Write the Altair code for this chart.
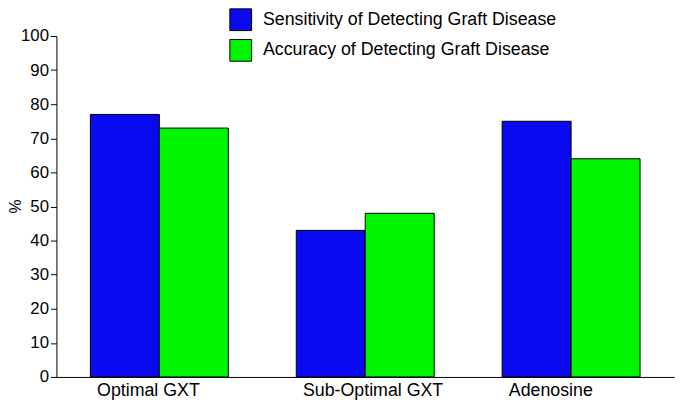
import altair as alt
import pandas as pd

categories = ["Optimal GXT", "Sub-Optimal GXT", "Adenosine"]
series = ["Sensitivity of Detecting Graft Disease", "Accuracy of Detecting Graft Disease"]
sensitivity = [77, 43, 75]
accuracy = [73, 48, 64]
colors = ["#0a0af0", "#00f500"]

rows = []
for c, s, a in zip(categories, sensitivity, accuracy):
    rows.append({"category": c, "series": series[0], "value": s})
    rows.append({"category": c, "series": series[1], "value": a})
df = pd.DataFrame(rows)

FONT = "Liberation Sans"

chart = alt.Chart(df).mark_bar(stroke="black", strokeWidth=1).encode(
    x=alt.X("category:N", sort=categories, title=None,
            scale=alt.Scale(paddingInner=0.33, paddingOuter=0.165),
            axis=alt.Axis(labelAngle=0, ticks=False, domainColor="black", domainWidth=1,
                          labelFontSize=18, labelColor="black", labelFont=FONT,
                          labelPadding=5, labelAlign="left", labelOffset=-63)),
    xOffset=alt.XOffset("series:N", sort=series, scale=alt.Scale(paddingInner=0, paddingOuter=0)),
    y=alt.Y("value:Q", title="%", scale=alt.Scale(domain=[0, 100], nice=False),
            axis=alt.Axis(values=list(range(0, 101, 10)), grid=False, tickSize=6,
                          tickColor="black", domainColor="black", labelFontSize=17,
                          labelColor="black", labelFont=FONT, labelPadding=2,
                          titleFont=FONT, titleFontSize=16, titleFontWeight="normal",
                          titleColor="black", titleX=-41, titleY=172, titleAngle=270,
                          titleAlign="center", titleBaseline="middle")),
    color=alt.Color("series:N", sort=series, title=None,
                    scale=alt.Scale(domain=series, range=colors),
                    legend=alt.Legend(orient="none", legendX=175, legendY=-28, padding=0,
                                      symbolType="square", symbolSize=484,
                                      symbolStrokeColor="black", symbolStrokeWidth=1,
                                      symbolOpacity=1, labelFontSize=18, labelFont=FONT,
                                      labelColor="black", labelOffset=11, rowPadding=4,
                                      labelLimit=400)),
).properties(
    width=625, height=345, autosize="none",
    padding={"left": 49, "top": 26, "right": 3, "bottom": 24},
).configure_view(stroke=None)

chart.save("out.html", embed_options={"renderer": "svg", "actions": False})
